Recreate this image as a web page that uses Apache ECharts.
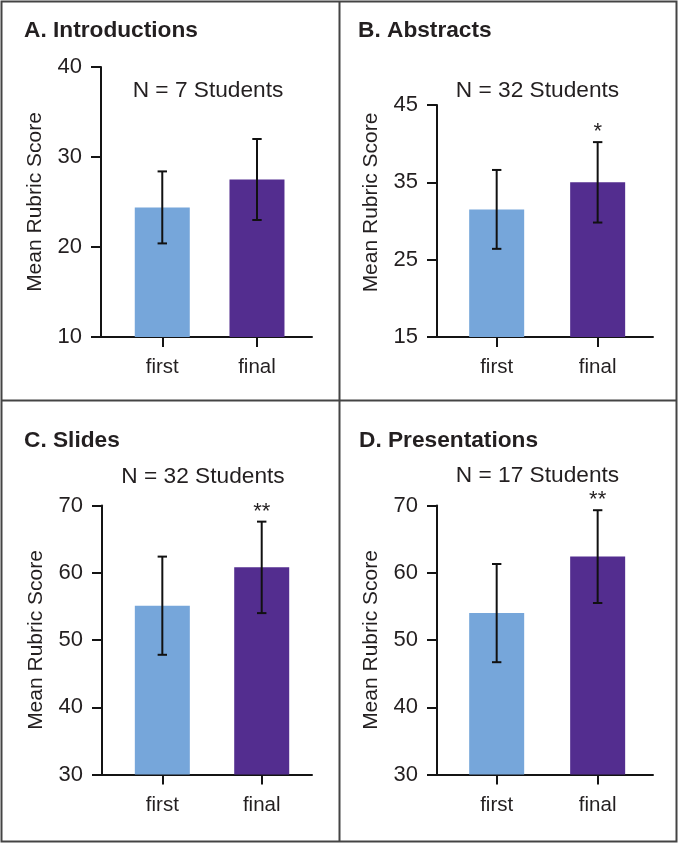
<!DOCTYPE html>
<html><head><meta charset="utf-8">
<script src="https://cdn.jsdelivr.net/npm/echarts@6/dist/echarts.min.js"></script>
<style>html,body{margin:0;padding:0;background:#fff}#c{width:680px;height:845px}</style>
</head><body><div id="c"></div><script>
// ---- data ----
const panelTitles = ['A. Introductions', 'B. Abstracts', 'C. Slides', 'D. Presentations'];
const sampleLabels = ['N = 7 Students', 'N = 32 Students', 'N = 32 Students', 'N = 17 Students'];
const categories = ['first', 'final'];
const firstMean = [24.4, 31.5, 55.1, 54.0];
const firstErr = [4.0, 5.1, 7.3, 7.3];
const finalMean = [27.5, 35.0, 60.8, 62.4];
const finalErr = [4.5, 5.2, 6.8, 6.9];
const firstSig = ['', '', '', ''];
const finalSig = ['', '*', '**', '**'];
const yMin = [10, 15, 30, 30];
const yMax = [40, 45, 70, 70];
const yStep = 10;
const yAxisName = 'Mean Rubric Score';

// ---- layout / style ----
const FONT = '"Liberation Sans", Arial, Helvetica, sans-serif';
const TXT = '#231F20';
const AX = '#141414';
const BLUE = '#76A6DA';
const PURPLE = '#532D8F';
const grids = [
  {left: 101, top: 67, width: 211, height: 270},
  {left: 437, top: 105, width: 216, height: 232},
  {left: 102, top: 505.5, width: 210, height: 269},
  {left: 437, top: 505.5, width: 216, height: 269}
];
const xRange = [[-0.647, 1.581], [-0.591, 1.548], [-0.607, 1.506], [-0.591, 1.548]];
const titlePos = [[24, 19.5], [358, 19.5], [24, 429.5], [359, 429.5]];
const nPos = [[208, 79.5], [537.5, 79.5], [203, 465.5], [537.5, 464]];
const nameShift = [0, 37, 0, 0];

const xAxes = [], yAxes = [], series = [], graphics = [];
for (let i = 0; i < 4; i++) {
  xAxes.push({
    gridIndex: i, type: 'value', min: xRange[i][0], max: xRange[i][1],
    axisLine: {show: true, onZero: false, lineStyle: {color: AX, width: 2}},
    axisTick: {show: true, length: 10, customValues: [0, 1], lineStyle: {color: AX, width: 2}},
    axisLabel: {customValues: [0, 1], formatter: v => categories[Math.round(v)], color: TXT,
      fontSize: 20.5, fontFamily: FONT, margin: 20},
    splitLine: {show: false}
  });
  yAxes.push({
    gridIndex: i, type: 'value', min: yMin[i], max: yMax[i], interval: yStep,
    axisLine: {show: true, onZero: false, lineStyle: {color: AX, width: 2}},
    axisTick: {show: true, length: 10, lineStyle: {color: AX, width: 2}},
    axisLabel: {color: TXT, fontSize: 22, fontFamily: FONT, margin: 19},
    splitLine: {show: false},
    name: yAxisName, nameLocation: 'middle', nameGap: 55,
    nameTextStyle: {color: TXT, fontSize: 21, fontFamily: FONT, padding: [0, 0, 0, nameShift[i]]}
  });
  series.push({
    type: 'bar', xAxisIndex: i, yAxisIndex: i, barWidth: 55, silent: true,
    data: [
      {value: [0, firstMean[i]], itemStyle: {color: BLUE}},
      {value: [1, finalMean[i]], itemStyle: {color: PURPLE}}
    ]
  });
  const sigs = [firstSig[i], finalSig[i]];
  series.push({
    type: 'custom', xAxisIndex: i, yAxisIndex: i, silent: true, z: 10,
    encode: {x: 0, y: [1, 2]},
    data: [
      [0, firstMean[i] - firstErr[i], firstMean[i] + firstErr[i]],
      [1, finalMean[i] - finalErr[i], finalMean[i] + finalErr[i]]
    ],
    renderItem: (params, api) => {
      const x = api.value(0);
      const lo = api.coord([x, api.value(1)]);
      const hi = api.coord([x, api.value(2)]);
      const cw = 4.7;
      const st = {stroke: '#111', lineWidth: 2, fill: null};
      return {type: 'group', children: [
        {type: 'line', shape: {x1: lo[0], y1: lo[1], x2: hi[0], y2: hi[1]}, style: st},
        {type: 'line', shape: {x1: hi[0] - cw, y1: hi[1], x2: hi[0] + cw, y2: hi[1]}, style: st},
        {type: 'line', shape: {x1: lo[0] - cw, y1: lo[1], x2: lo[0] + cw, y2: lo[1]}, style: st},
        {type: 'text', x: hi[0], y: hi[1] + 1, style: {text: sigs[params.dataIndex], fill: TXT,
          font: '22px ' + FONT, align: 'center', verticalAlign: 'bottom'}}
      ]};
    }
  });
  graphics.push({type: 'text', x: titlePos[i][0], y: titlePos[i][1],
    style: {text: panelTitles[i], fill: TXT, font: 'bold 22.7px ' + FONT, align: 'left', verticalAlign: 'top'}});
  graphics.push({type: 'text', x: nPos[i][0], y: nPos[i][1],
    style: {text: sampleLabels[i], fill: TXT, font: '22.7px ' + FONT, align: 'center', verticalAlign: 'top'}});
}
graphics.push({type: 'rect', shape: {x: 1.5, y: 1.5, width: 675, height: 840},
  style: {fill: null, stroke: '#444', lineWidth: 2}, silent: true});
graphics.push({type: 'line', shape: {x1: 339.5, y1: 1.5, x2: 339.5, y2: 841.5},
  style: {stroke: '#444', lineWidth: 2}, silent: true});
graphics.push({type: 'line', shape: {x1: 1.5, y1: 400.5, x2: 676.5, y2: 400.5},
  style: {stroke: '#444', lineWidth: 2}, silent: true});

const chart = echarts.init(document.getElementById('c'), null, {renderer: 'canvas'});
chart.setOption({
  animation: false,
  backgroundColor: '#fff',
  grid: grids.map(g => Object.assign({containLabel: false, outerBoundsMode: 'none'}, g)),
  xAxis: xAxes,
  yAxis: yAxes,
  series: series,
  graphic: graphics
});
</script></body></html>
